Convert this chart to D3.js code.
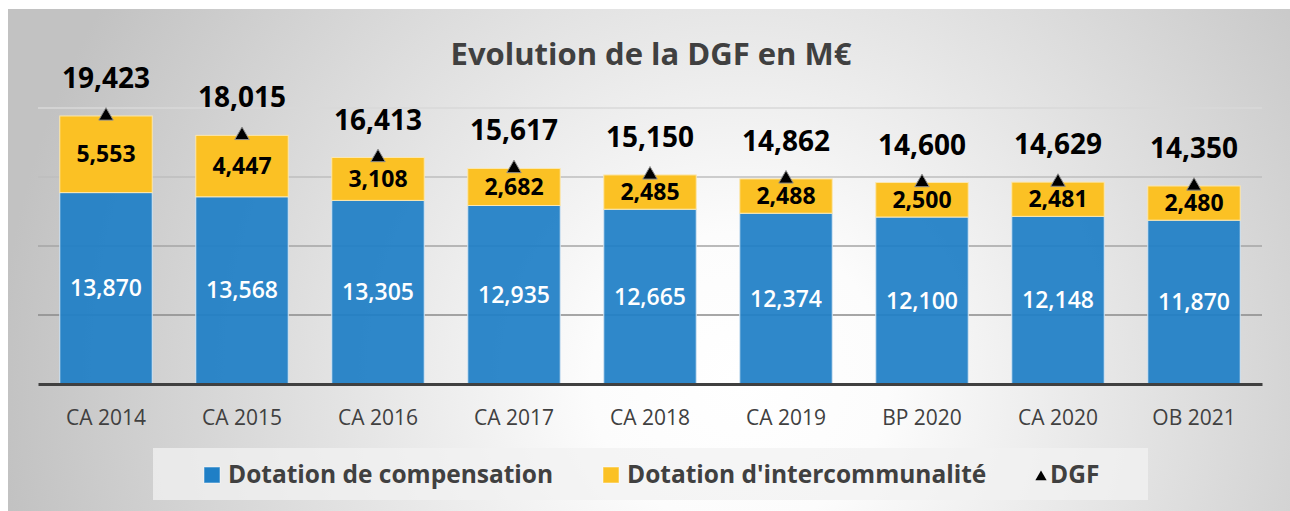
<!DOCTYPE html>
<html>
<head>
<meta charset="utf-8">
<script src="https://cdn.jsdelivr.net/npm/d3@7"></script>
<style>
  html, body { margin: 0; padding: 0; background: #fff; }
  svg { display: block; font-family: "Open Sans", sans-serif; }
</style>
</head>
<body>
<div id="chart"></div>
<script>
// Chart data
const categories = ['CA 2014', 'CA 2015', 'CA 2016', 'CA 2017', 'CA 2018', 'CA 2019', 'BP 2020', 'CA 2020', 'OB 2021'];
const compensation = [13870, 13568, 13305, 12935, 12665, 12374, 12100, 12148, 11870];
const intercommunalite = [5553, 4447, 3108, 2682, 2485, 2488, 2500, 2481, 2480];
const dgf = [19423, 18015, 16413, 15617, 15150, 14862, 14600, 14629, 14350];
const gridValues = [5000, 10000, 15000, 20000];
const legendLabels = ['Dotation de compensation', "Dotation d'intercommunalité", 'DGF'];

const width = 1290, height = 511;
const blue = '#1f7fc6', yellow = '#fbc124', textDark = '#404040';
const fmt = d3.format(',');

const svg = d3.select('#chart').append('svg')
    .attr('width', width)
    .attr('height', height);

// Background radial gradient
const defs = svg.append('defs');
const grad = defs.append('radialGradient')
    .attr('id', 'bg')
    .attr('gradientUnits', 'userSpaceOnUse')
    .attr('cx', 740).attr('cy', 380).attr('r', 740);
grad.append('stop').attr('offset', '0').attr('stop-color', '#ffffff');
grad.append('stop').attr('offset', '0.2').attr('stop-color', '#fcfcfc');
grad.append('stop').attr('offset', '1').attr('stop-color', '#c2c2c2');

svg.append('rect')
    .attr('x', 8).attr('y', 9)
    .attr('width', width - 8).attr('height', height - 9)
    .attr('fill', 'url(#bg)');

// Scales
const x = d3.scaleBand()
    .domain(categories)
    .range([38, 1262])
    .paddingInner(0.32)
    .paddingOuter(0.16);

const y = d3.scaleLinear()
    .domain([0, 25000])
    .range([384, 39]);

// Title
svg.append('text')
    .attr('x', 651).attr('y', 65)
    .attr('text-anchor', 'middle')
    .attr('font-size', 31)
    .attr('font-weight', 'bold')
    .attr('fill', textDark)
    .text('Evolution de la DGF en M€');

// Gridlines, darker toward the axis
const gridColor = d3.scaleLinear().domain([5000, 20000]).range(['#8a8a8a', '#d8d8d8']);
svg.append('g')
    .selectAll('line')
    .data(gridValues)
    .join('line')
    .attr('x1', 38).attr('x2', 1262)
    .attr('y1', d => y(d)).attr('y2', d => y(d))
    .attr('stroke', d => gridColor(d))
    .attr('stroke-width', 1.5);

// Stacked bars
const bars = svg.append('g');
bars.selectAll('rect.comp')
    .data(categories)
    .join('rect')
    .attr('class', 'comp')
    .attr('x', d => x(d))
    .attr('width', x.bandwidth())
    .attr('y', (d, i) => y(compensation[i]))
    .attr('height', (d, i) => y(0) - y(compensation[i]))
    .attr('fill', blue)
    .attr('fill-opacity', 0.93)
    .attr('stroke', '#d6e6f3')
    .attr('stroke-width', 1);

bars.selectAll('rect.inter')
    .data(categories)
    .join('rect')
    .attr('class', 'inter')
    .attr('x', d => x(d))
    .attr('width', x.bandwidth())
    .attr('y', (d, i) => y(compensation[i] + intercommunalite[i]))
    .attr('height', (d, i) => y(compensation[i]) - y(compensation[i] + intercommunalite[i]))
    .attr('fill', yellow)
    .attr('stroke', '#fbe7b0')
    .attr('stroke-width', 1);

// Axis line and category labels
const xAxis = svg.append('g')
    .attr('transform', `translate(0,${y(0)})`)
    .call(d3.axisBottom(x).tickSize(0).tickPadding(0));
xAxis.select('.domain')
    .attr('stroke', textDark)
    .attr('stroke-width', 3);
xAxis.selectAll('.tick text')
    .attr('y', 41)
    .attr('dy', 0)
    .attr('font-family', '"Open Sans", sans-serif')
    .attr('font-size', 21)
    .attr('fill', textDark);

// Data labels
const labels = svg.append('g').attr('font-weight', 'bold').attr('text-anchor', 'middle');
labels.selectAll('text.comp')
    .data(categories)
    .join('text')
    .attr('class', 'comp')
    .attr('x', d => x(d) + x.bandwidth() / 2)
    .attr('y', (d, i) => (y(0) + y(compensation[i])) / 2 + 8)
    .attr('font-size', 23)
    .attr('font-weight', 600)
    .attr('fill', '#ffffff')
    .text((d, i) => fmt(compensation[i]));

labels.selectAll('text.inter')
    .data(categories)
    .join('text')
    .attr('class', 'inter')
    .attr('x', d => x(d) + x.bandwidth() / 2)
    .attr('y', (d, i) => (y(compensation[i]) + y(dgf[i])) / 2 + 8)
    .attr('font-size', 23)
    .attr('fill', '#000000')
    .text((d, i) => fmt(intercommunalite[i]));

// DGF markers
const tri = d3.symbol().type(d3.symbolTriangle).size(90);
svg.append('g')
    .selectAll('path')
    .data(categories)
    .join('path')
    .attr('transform', (d, i) => `translate(${x(d) + x.bandwidth() / 2},${y(dgf[i])})`)
    .attr('d', tri)
    .attr('fill', '#000000')
    .attr('stroke', '#8c8c8c')
    .attr('stroke-width', 1);

labels.selectAll('text.dgf')
    .data(categories)
    .join('text')
    .attr('class', 'dgf')
    .attr('x', d => x(d) + x.bandwidth() / 2)
    .attr('y', (d, i) => y(dgf[i]) - 28)
    .attr('font-size', 28)
    .attr('fill', '#000000')
    .text((d, i) => fmt(dgf[i]));

// Legend
const legend = svg.append('g');
legend.append('rect')
    .attr('x', 153).attr('y', 448)
    .attr('width', 995).attr('height', 52)
    .attr('fill', '#f2f2f2')
    .attr('fill-opacity', 0.75);

const legendItems = [
    {label: legendLabels[0], color: blue, mark: 'square', x: 204},
    {label: legendLabels[1], color: yellow, mark: 'square', x: 603},
    {label: legendLabels[2], color: '#000000', mark: 'triangle', x: 1036}
];
legendItems.forEach(item => {
    if (item.mark === 'square') {
        legend.append('rect')
            .attr('x', item.x).attr('y', 467)
            .attr('width', 16).attr('height', 16)
            .attr('fill', item.color)
            .attr('stroke', '#ffffff')
            .attr('stroke-opacity', 0.5);
    } else {
        legend.append('path')
            .attr('transform', `translate(${item.x + 5},${477})`)
            .attr('d', d3.symbol().type(d3.symbolTriangle).size(55))
            .attr('fill', '#000000');
    }
    legend.append('text')
        .attr('x', item.mark === 'square' ? item.x + 24 : item.x + 14)
        .attr('y', 483)
        .attr('font-size', 24.5)
        .attr('font-weight', 'bold')
        .attr('fill', textDark)
        .text(item.label);
});
</script>
</body>
</html>
